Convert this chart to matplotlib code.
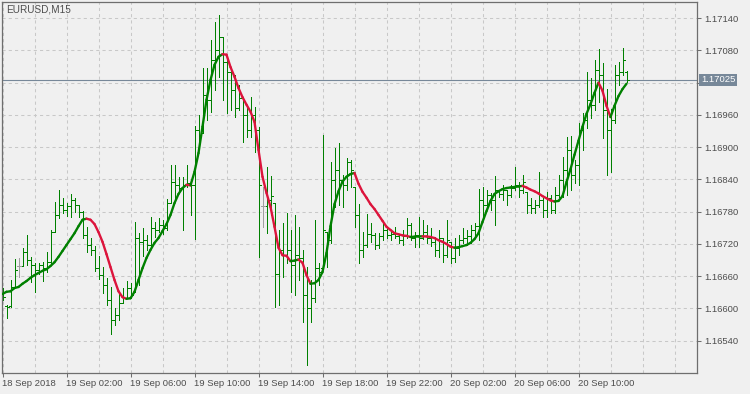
"""
EURUSD M15 bar chart with a colour-switching smoothed line,
redrawn in the MetaTrader look.
"""

import matplotlib
matplotlib.use("Agg")
import numpy as np
import matplotlib.pyplot as plt
from matplotlib.collections import LineCollection
from matplotlib.transforms import blended_transform_factory

# ---------------------------------------------------------------------------
# Data (15-minute bars from 18 Sep 22:00)
# ---------------------------------------------------------------------------

SYMBOL = "EURUSD,M15"
LAST_PRICE = 1.17025

PRICE_TICKS = [1.16540, 1.16600, 1.16660, 1.16720, 1.16780, 1.16840,
               1.16900, 1.16960, 1.17020, 1.17080, 1.17140]
PRICE_TICK_LABELS = ["1.16540", "1.16600", "1.16660", "1.16720", "1.16780",
                     "1.16840", "1.16900", "1.16960", "", "1.17080", "1.17140"]

TIME_LABELS = ["18 Sep 2018", "19 Sep 02:00", "19 Sep 06:00", "19 Sep 10:00",
               "19 Sep 14:00", "19 Sep 18:00", "19 Sep 22:00", "20 Sep 02:00",
               "20 Sep 06:00", "20 Sep 10:00"]
BARS_PER_LABEL = 16   # 4 hours of M15
BARS_PER_GRID = 8     # 2 hours

opens = [
    1.16623, 1.16605, 1.16605, 1.16640, 1.16679, 1.16679, 1.16705, 1.16690, 1.16681, 1.16672,
    1.16681, 1.16675, 1.16686, 1.16742, 1.16774, 1.16792, 1.16783, 1.16791, 1.16802, 1.16792,
    1.16779, 1.16737, 1.16718, 1.16709, 1.16675, 1.16662, 1.16644, 1.16616, 1.16578, 1.16588,
    1.16610, 1.16619, 1.16638, 1.16631, 1.16731, 1.16724, 1.16727, 1.16718, 1.16750, 1.16746,
    1.16755, 1.16750, 1.16796, 1.16835, 1.16830, 1.16824, 1.16830, 1.16833, 1.16830, 1.16932,
    1.16926, 1.16997, 1.16988, 1.17062, 1.17081, 1.17105, 1.17059, 1.17040, 1.17006, 1.16973,
    1.16992, 1.16960, 1.16932, 1.16960, 1.16932, 1.16791, 1.16791, 1.16802, 1.16796, 1.16664,
    1.16709, 1.16699, 1.16709, 1.16681, 1.16699, 1.16694, 1.16625, 1.16601, 1.16619, 1.16675,
    1.16675, 1.16742, 1.16727, 1.16839, 1.16858, 1.16839, 1.16830, 1.16873, 1.16826, 1.16774,
    1.16709, 1.16718, 1.16739, 1.16737, 1.16718, 1.16735, 1.16746, 1.16737, 1.16739, 1.16735,
    1.16727, 1.16735, 1.16755, 1.16731, 1.16737, 1.16731, 1.16742, 1.16731, 1.16724, 1.16709,
    1.16731, 1.16699, 1.16724, 1.16694, 1.16713, 1.16727, 1.16731, 1.16735, 1.16746, 1.16753,
    1.16802, 1.16792, 1.16811, 1.16802, 1.16820, 1.16813, 1.16820, 1.16811, 1.16824, 1.16830,
    1.16820, 1.16817, 1.16792, 1.16787, 1.16792, 1.16802, 1.16783, 1.16806, 1.16783, 1.16811,
    1.16839, 1.16858, 1.16895, 1.16848, 1.16867, 1.16932, 1.16951, 1.16988, 1.16979, 1.17044,
    1.17034, 1.16969, 1.16932, 1.16951, 1.17034, 1.17040, 1.17040,
]

highs = [
    1.16638, 1.16606, 1.16653, 1.16692, 1.16694, 1.16713, 1.16737, 1.16696, 1.16685, 1.16685,
    1.16686, 1.16705, 1.16746, 1.16798, 1.16820, 1.16806, 1.16796, 1.16813, 1.16806, 1.16792,
    1.16781, 1.16752, 1.16731, 1.16716, 1.16698, 1.16677, 1.16657, 1.16640, 1.16601, 1.16629,
    1.16638, 1.16651, 1.16647, 1.16761, 1.16740, 1.16750, 1.16737, 1.16770, 1.16761, 1.16768,
    1.16765, 1.16804, 1.16867, 1.16867, 1.16845, 1.16845, 1.16867, 1.16839, 1.16940, 1.16960,
    1.17047, 1.17047, 1.17100, 1.17133, 1.17146, 1.17105, 1.17068, 1.17049, 1.17034, 1.17016,
    1.16993, 1.16975, 1.16993, 1.16975, 1.16938, 1.16826, 1.16863, 1.16846, 1.16796, 1.16746,
    1.16759, 1.16778, 1.16746, 1.16774, 1.16752, 1.16709, 1.16677, 1.16653, 1.16765, 1.16685,
    1.16923, 1.16742, 1.16873, 1.16899, 1.16908, 1.16848, 1.16880, 1.16876, 1.16826, 1.16794,
    1.16742, 1.16776, 1.16759, 1.16740, 1.16740, 1.16759, 1.16750, 1.16744, 1.16752, 1.16739,
    1.16746, 1.16768, 1.16759, 1.16742, 1.16770, 1.16765, 1.16755, 1.16750, 1.16733, 1.16746,
    1.16731, 1.16765, 1.16724, 1.16731, 1.16737, 1.16750, 1.16746, 1.16755, 1.16759, 1.16822,
    1.16826, 1.16820, 1.16815, 1.16846, 1.16820, 1.16830, 1.16820, 1.16830, 1.16863, 1.16835,
    1.16848, 1.16817, 1.16806, 1.16802, 1.16854, 1.16806, 1.16817, 1.16811, 1.16826, 1.16848,
    1.16882, 1.16919, 1.16921, 1.16876, 1.16945, 1.16964, 1.17040, 1.17029, 1.17062, 1.17083,
    1.17057, 1.17008, 1.16971, 1.17053, 1.17059, 1.17085, 1.17042,
]

lows = [
    1.16616, 1.16582, 1.16603, 1.16640, 1.16659, 1.16679, 1.16681, 1.16649, 1.16631, 1.16664,
    1.16651, 1.16668, 1.16681, 1.16742, 1.16768, 1.16778, 1.16772, 1.16770, 1.16779, 1.16770,
    1.16731, 1.16705, 1.16699, 1.16670, 1.16655, 1.16629, 1.16606, 1.16552, 1.16569, 1.16578,
    1.16610, 1.16619, 1.16619, 1.16631, 1.16644, 1.16698, 1.16709, 1.16713, 1.16733, 1.16742,
    1.16739, 1.16746, 1.16796, 1.16802, 1.16815, 1.16746, 1.16826, 1.16774, 1.16729, 1.16895,
    1.16926, 1.16951, 1.16966, 1.17006, 1.17031, 1.16988, 1.16964, 1.16969, 1.16956, 1.16969,
    1.16910, 1.16919, 1.16919, 1.16891, 1.16696, 1.16752, 1.16740, 1.16774, 1.16603, 1.16606,
    1.16659, 1.16685, 1.16631, 1.16625, 1.16653, 1.16575, 1.16495, 1.16575, 1.16612, 1.16644,
    1.16675, 1.16677, 1.16722, 1.16789, 1.16792, 1.16789, 1.16820, 1.16826, 1.16752, 1.16685,
    1.16696, 1.16714, 1.16724, 1.16711, 1.16713, 1.16727, 1.16731, 1.16727, 1.16731, 1.16722,
    1.16718, 1.16731, 1.16727, 1.16714, 1.16714, 1.16729, 1.16722, 1.16716, 1.16698, 1.16696,
    1.16686, 1.16696, 1.16685, 1.16686, 1.16699, 1.16722, 1.16718, 1.16722, 1.16733, 1.16727,
    1.16768, 1.16789, 1.16783, 1.16755, 1.16807, 1.16802, 1.16792, 1.16807, 1.16820, 1.16807,
    1.16815, 1.16778, 1.16778, 1.16778, 1.16789, 1.16770, 1.16770, 1.16778, 1.16778, 1.16807,
    1.16807, 1.16811, 1.16820, 1.16833, 1.16830, 1.16895, 1.16936, 1.16954, 1.16969, 1.16984,
    1.16917, 1.16848, 1.16854, 1.16945, 1.17016, 1.17034, 1.17021,
]

closes = [
    1.16621, 1.16603, 1.16640, 1.16672, 1.16679, 1.16705, 1.16690, 1.16681, 1.16672, 1.16681,
    1.16675, 1.16686, 1.16742, 1.16774, 1.16792, 1.16783, 1.16791, 1.16802, 1.16792, 1.16779,
    1.16737, 1.16718, 1.16709, 1.16675, 1.16662, 1.16644, 1.16616, 1.16578, 1.16588, 1.16610,
    1.16619, 1.16638, 1.16625, 1.16731, 1.16724, 1.16727, 1.16718, 1.16750, 1.16746, 1.16755,
    1.16750, 1.16796, 1.16835, 1.16830, 1.16824, 1.16830, 1.16833, 1.16830, 1.16932, 1.16923,
    1.16997, 1.16988, 1.17062, 1.17081, 1.17105, 1.17059, 1.17040, 1.17006, 1.16973, 1.16992,
    1.16960, 1.16932, 1.16960, 1.16932, 1.16830, 1.16791, 1.16802, 1.16809, 1.16664, 1.16709,
    1.16699, 1.16709, 1.16681, 1.16699, 1.16694, 1.16625, 1.16601, 1.16619, 1.16675, 1.16668,
    1.16746, 1.16727, 1.16839, 1.16858, 1.16839, 1.16830, 1.16873, 1.16858, 1.16774, 1.16709,
    1.16718, 1.16739, 1.16737, 1.16718, 1.16735, 1.16746, 1.16737, 1.16739, 1.16735, 1.16727,
    1.16735, 1.16755, 1.16731, 1.16737, 1.16731, 1.16742, 1.16731, 1.16724, 1.16709, 1.16731,
    1.16699, 1.16727, 1.16694, 1.16713, 1.16727, 1.16731, 1.16735, 1.16746, 1.16753, 1.16802,
    1.16792, 1.16811, 1.16802, 1.16820, 1.16813, 1.16820, 1.16811, 1.16824, 1.16830, 1.16820,
    1.16835, 1.16792, 1.16787, 1.16792, 1.16802, 1.16783, 1.16806, 1.16783, 1.16811, 1.16839,
    1.16858, 1.16895, 1.16848, 1.16867, 1.16932, 1.16951, 1.16988, 1.16979, 1.17044, 1.17034,
    1.16969, 1.16932, 1.16951, 1.17034, 1.17040, 1.17062, 1.17025,
]

# smoothed line drawn over the bars (one value per bar)
smooth = [
    1.16627, 1.16631, 1.16632, 1.16638, 1.16640, 1.16646, 1.16651, 1.16657, 1.16662, 1.16666,
    1.16670, 1.16673, 1.16679, 1.16686, 1.16696, 1.16707, 1.16718, 1.16729, 1.16740, 1.16753,
    1.16765, 1.16767, 1.16765, 1.16757, 1.16742, 1.16724, 1.16701, 1.16677, 1.16653, 1.16632,
    1.16621, 1.16618, 1.16619, 1.16631, 1.16653, 1.16675, 1.16694, 1.16709, 1.16722, 1.16731,
    1.16744, 1.16757, 1.16774, 1.16796, 1.16813, 1.16824, 1.16830, 1.16829, 1.16854, 1.16889,
    1.16938, 1.16988, 1.17025, 1.17053, 1.17068, 1.17073, 1.17072, 1.17049, 1.17031, 1.17010,
    1.16993, 1.16979, 1.16966, 1.16947, 1.16895, 1.16845, 1.16815, 1.16789, 1.16752, 1.16713,
    1.16699, 1.16698, 1.16688, 1.16689, 1.16691, 1.16685, 1.16662, 1.16646, 1.16647, 1.16653,
    1.16668, 1.16703, 1.16753, 1.16794, 1.16818, 1.16836, 1.16845, 1.16850, 1.16852, 1.16832,
    1.16817, 1.16806, 1.16794, 1.16785, 1.16774, 1.16763, 1.16752, 1.16746, 1.16740, 1.16738,
    1.16736, 1.16735, 1.16733, 1.167335, 1.16734, 1.167342, 1.16734, 1.16733, 1.16731, 1.16727,
    1.16724, 1.16720, 1.16715, 1.16713, 1.16714, 1.16716, 1.16718, 1.16722, 1.16729, 1.16740,
    1.16761, 1.16781, 1.16800, 1.16813, 1.16818, 1.16822, 1.16824, 1.16825, 1.16826, 1.16827,
    1.16828, 1.16825, 1.16821, 1.16818, 1.16814, 1.16809, 1.16805, 1.16801, 1.16799, 1.16800,
    1.16809, 1.16835, 1.16859, 1.16886, 1.16912, 1.16938, 1.16962, 1.16980, 1.17001, 1.17020,
    1.17005, 1.16977, 1.16956, 1.16977, 1.16995, 1.17008, 1.17018,
]

# ---------------------------------------------------------------------------
# Style
# ---------------------------------------------------------------------------

BG = "#F0F0F0"
FRAME = "#6E6E6E"
TEXT = "#4D4D4D"
GRID = "#C8C8C8"
BAR = "#008000"
DOJI = "#A0A0A0"
UP = "#008000"
DOWN = "#DC143C"
PRICE_LINE = "#778899"
FONT = "Liberation Sans"

W, H = 750, 394
LEFT, RIGHT, TOP, BOTTOM = 2, 697, 2, 373   # plot frame in pixels
BAR_PX = 4                                  # bar spacing in pixels
FIRST_BAR_PX = 2.5

plt.rcParams["font.family"] = FONT

fig = plt.figure(figsize=(W / 100, H / 100), dpi=100, facecolor=BG)
ax = fig.add_axes([LEFT / W, (H - BOTTOM) / H,
                   (RIGHT - LEFT) / W, (BOTTOM - TOP) / H])
ax.set_facecolor(BG)

x = np.arange(len(closes))
o = np.array(opens)
hi = np.array(highs)
lo = np.array(lows)
c = np.array(closes)

ax.set_xlim((LEFT - FIRST_BAR_PX) / BAR_PX, (RIGHT - FIRST_BAR_PX) / BAR_PX)
ax.set_ylim(1.16480, 1.17170)

# grid
ax.set_xticks(np.arange(0, len(TIME_LABELS) * BARS_PER_LABEL, BARS_PER_LABEL))
ax.set_xticks(np.arange(BARS_PER_GRID, 176, BARS_PER_GRID), minor=True)
ax.set_xticklabels(TIME_LABELS, ha="left")
ax.set_yticks(PRICE_TICKS)
ax.set_yticklabels(PRICE_TICK_LABELS)
ax.yaxis.tick_right()
ax.grid(True, which="both", color=GRID, lw=0.75, ls=(0, (3, 3)), zorder=0)

ax.tick_params(axis="both", which="major", length=3, width=0.75, color=FRAME,
               labelcolor=TEXT, labelsize=6.8)
ax.tick_params(axis="x", which="major", pad=1.5)
ax.tick_params(axis="y", which="major", pad=2.5)
ax.tick_params(axis="both", which="minor", length=0)
for sp in ax.spines.values():
    sp.set_color(FRAME)
    sp.set_linewidth(0.9)

# price line
ax.axhline(LAST_PRICE, color=PRICE_LINE, lw=0.8, zorder=1)
trans = blended_transform_factory(ax.transAxes, ax.transData)
ax.text(1 + 4 / (RIGHT - LEFT), LAST_PRICE, f"{LAST_PRICE:.5f}",
        transform=trans, ha="left", va="center", color="white", size=6.8,
        bbox=dict(boxstyle="square,pad=0.2", fc=PRICE_LINE, ec="none"),
        clip_on=False, zorder=5)

# OHLC bars (open tick left, close tick right), crisp 1 px like the terminal
bar_cols = [DOJI if oo == cc else BAR for oo, cc in zip(o, c)]
ax.vlines(x, lo, hi, colors=bar_cols, lw=0.6, antialiased=False, zorder=2)
ax.hlines(o, x - 0.5, x, colors=bar_cols, lw=0.6, antialiased=False, zorder=2)
ax.hlines(c, x, x + 0.5, colors=bar_cols, lw=0.6, antialiased=False, zorder=2)

# smoothed line, red while falling, green while rising
s = np.array(smooth)
seg_cols = []
col = UP
for d in np.diff(s):
    if d > 0:
        col = UP
    elif d < 0:
        col = DOWN
    seg_cols.append(col)
pts = np.column_stack([x, s])
segs = np.stack([pts[:-1], pts[1:]], axis=1)
ax.add_collection(LineCollection(segs, colors=seg_cols, lw=1.7,
                                 capstyle="round", zorder=3))

fig.text(6 / W, 1 - 9 / H, SYMBOL, ha="left", va="center",
         color=TEXT, size=7.2)

fig.savefig("out.png", dpi=100, facecolor=BG)
